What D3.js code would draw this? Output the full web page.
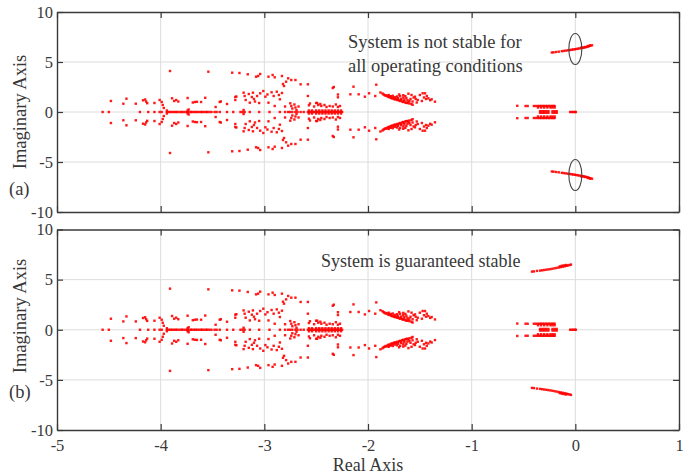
<!DOCTYPE html>
<html>
<head>
<meta charset="utf-8">
<script src="https://cdn.jsdelivr.net/npm/d3@7"></script>
<style>
  html, body { margin: 0; padding: 0; background: #fff; }
  svg { display: block; }
  text { font-family: "Liberation Serif", "Times New Roman", serif; fill: #383838; }
</style>
</head>
<body>
<svg id="chart" width="694" height="475"></svg>
<script>
// Closed-loop eigenvalues over the operating range, stored as upper-half-plane
// values [re, im]; each complex value is drawn together with its conjugate.

// Well-damped modes shared by both designs
const realAxisModes = [
  -4.56, -4.50, -4.20, -4.12, -4.06, -4.01, -3.99,
  -3.94, -3.92, -3.905, -3.89, -3.87, -3.855, -3.84, -3.82, -3.80, -3.79, -3.77,
  -3.75, -3.74, -3.73, -3.71, -3.70, -3.68, -3.665, -3.65, -3.63, -3.61, -3.60,
  -3.58, -3.56, -3.55, -3.53, -3.51, -3.48, -3.46, -3.43, -3.36, -3.30, -3.23,
  -3.21, -3.19, -3.14, -3.05, -2.95, -2.85, -2.80, -2.77, -2.75, -2.73, -2.70,
  -2.68, -2.65, -2.62,
  -2.58, -2.565, -2.55, -2.535, -2.52, -2.505, -2.49, -2.475, -2.46, -2.445,
  -2.43, -2.415, -2.40, -2.385, -2.37, -2.355, -2.34, -2.325, -2.31, -2.295,
  -2.28, -2.265, -2.25
];

const complexModes = [
  // far-left group
  [-4.48, 1.10], [-4.36, 0.83], [-4.33, 1.33], [-4.24, 0.83], [-4.17, 1.17],
  [-4.15, 1.25], [-4.14, 1.05], [-4.13, 0.88], [-4.06, 0.90], [-4.01, 1.20],
  [-3.99, 1.00], [-3.98, 0.70], [-3.97, 0.40], [-3.94, 0.15],
  // lightly damped outer arc
  [-3.91, 4.10], [-3.54, 4.03], [-3.31, 3.93], [-3.24, 3.90], [-3.16, 3.77],
  [-3.06, 3.60], [-3.08, 3.53], [-3.04, 3.80], [-2.96, 3.53], [-2.92, 3.70],
  [-2.90, 3.47], [-2.83, 3.60], [-2.82, 2.80], [-2.81, 2.60], [-2.79, 3.03],
  [-2.77, 3.37], [-2.74, 3.20], [-2.70, 3.20], [-2.65, 2.77], [-2.58, 2.77],
  // inner groups
  [-3.89, 1.37], [-3.87, 1.10], [-3.85, 1.20], [-3.83, 1.05], [-3.74, 1.40],
  [-3.74, 0.15], [-3.73, 0.25], [-3.69, 0.95], [-3.67, 1.00], [-3.65, 1.02],
  [-3.61, 1.00], [-3.57, 1.42], [-3.47, 0.50], [-3.43, 1.00], [-3.42, 1.05],
  [-3.36, 0.80], [-3.28, 1.50], [-3.27, 1.55], [-3.28, 1.20], [-3.20, 0.20],
  [-3.19, 1.60], [-3.18, 1.20], [-3.12, 1.50], [-3.10, 1.30], [-3.09, 1.05],
  [-3.20, 1.93], [-3.15, 1.80], [-3.11, 1.93], [-3.07, 1.60], [-3.04, 1.87],
  [-3.01, 2.10], [-2.99, 1.53], [-2.97, 1.75], [-2.93, 1.97], [-2.91, 1.60],
  [-2.88, 2.03], [-2.86, 1.70], [-2.85, 1.27], [-2.83, 1.90],
  [-3.14, 0.93], [-3.05, 0.90], [-2.96, 0.93], [-2.90, 0.60], [-2.80, 0.55],
  [-2.75, 0.87], [-2.74, 0.60], [-2.73, 0.35], [-2.71, 0.75], [-2.70, 0.45],
  [-2.69, 0.20], [-2.67, 0.55], [-2.58, 1.60], [-2.57, 0.67], [-2.50, 0.90],
  [-2.48, 0.70], [-2.46, 0.80],
  // band around -2.4
  [-2.57, 0.15], [-2.54, 0.15], [-2.50, 0.15], [-2.47, 0.15], [-2.44, 0.15],
  [-2.41, 0.15], [-2.38, 0.15], [-2.35, 0.15], [-2.32, 0.15], [-2.29, 0.15],
  [-2.26, 0.15],
  [-2.56, 0.85], [-2.52, 0.55], [-2.49, 0.90], [-2.45, 0.60], [-2.42, 0.70],
  [-2.40, 0.50], [-2.37, 0.60], [-2.34, 0.55], [-2.31, 0.75], [-2.29, 0.50],
  [-2.27, 0.60],
  [-2.34, 2.40], [-2.33, 2.50], [-2.29, 1.75], [-2.29, 1.47],
  // group between -2.2 and -1.35
  [-2.14, 2.53], [-2.17, 1.77], [-2.09, 1.77], [-2.03, 1.53], [-1.99, 1.87],
  [-1.93, 1.60], [-1.92, 2.73],
  [-1.88, 1.95], [-1.86, 1.85], [-1.85, 1.75], [-1.84, 1.70], [-1.83, 1.62],
  [-1.82, 1.66], [-1.81, 1.55], [-1.80, 1.48], [-1.79, 1.52], [-1.78, 1.42],
  [-1.77, 1.36], [-1.76, 1.40], [-1.75, 1.30], [-1.74, 1.26], [-1.73, 1.32],
  [-1.72, 1.20], [-1.71, 1.24], [-1.70, 1.15], [-1.69, 1.10], [-1.68, 1.18],
  [-1.67, 1.05], [-1.66, 1.00], [-1.65, 1.08], [-1.64, 0.95], [-1.63, 0.92],
  [-1.62, 0.90], [-1.61, 0.98], [-1.60, 0.85], [-1.58, 0.80], [-1.57, 0.72],
  [-1.80, 1.70], [-1.76, 1.62], [-1.72, 1.55], [-1.69, 1.60], [-1.66, 1.45],
  [-1.63, 1.40], [-1.61, 1.83], [-1.58, 1.70], [-1.59, 1.30],
  [-1.78, 1.58], [-1.74, 1.48], [-1.71, 1.40], [-1.68, 1.32], [-1.65, 1.25],
  [-1.62, 1.18], [-1.60, 1.12], [-1.57, 1.05], [-1.70, 1.75], [-1.66, 1.68],
  [-1.64, 1.58], [-1.56, 1.45], [-1.54, 1.30], [-1.53, 0.95],
  [-1.547, 1.53], [-1.50, 1.70], [-1.473, 1.87], [-1.45, 1.87], [-1.433, 1.60],
  [-1.418, 1.37], [-1.386, 1.27], [-1.354, 1.03], [-1.52, 1.20], [-1.48, 1.10],
  [-1.46, 1.45], [-1.44, 1.30], [-1.40, 1.18],
  // cluster near the imaginary axis
  [-0.56, 0.62], [-0.48, 0.60], [-0.46, 0.60], [-0.40, 0.60], [-0.38, 0.60],
  [-0.36, 0.60], [-0.345, 0.60], [-0.33, 0.60], [-0.315, 0.60], [-0.30, 0.60],
  [-0.285, 0.60], [-0.27, 0.60], [-0.255, 0.60], [-0.24, 0.60], [-0.225, 0.60],
  [-0.21, 0.60], [-0.20, 0.60],
  [-0.36, 0.45], [-0.33, 0.45], [-0.30, 0.45], [-0.27, 0.45], [-0.24, 0.45],
  [-0.22, 0.45], [-0.20, 0.45],
  [-0.34, 0.08], [-0.32, 0.08], [-0.30, 0.08], [-0.28, 0.08], [-0.26, 0.08],
  [-0.22, 0.08], [-0.20, 0.08], [-0.18, 0.08]
];

const nearZeroReal = [-0.05, -0.035, -0.02, -0.005, 0.005];

// Critical (inter-area) mode for each design
const criticalA = [
  [-0.226, 5.95], [-0.21, 5.97], [-0.185, 6.00], [-0.16, 6.03], [-0.13, 6.08],
  [-0.11, 6.11], [-0.09, 6.14], [-0.07, 6.17], [-0.05, 6.20], [-0.035, 6.23],
  [-0.02, 6.25], [-0.005, 6.28], [0.01, 6.30], [0.025, 6.33], [0.04, 6.36],
  [0.055, 6.39], [0.07, 6.41], [0.085, 6.44], [0.10, 6.48], [0.115, 6.52],
  [0.13, 6.57], [0.145, 6.62], [0.161, 6.67], [0.12, 6.60], [0.14, 6.66],
  [0.09, 6.50], [0.06, 6.46]
];

const criticalB = [
  [-0.418, 5.80], [-0.40, 5.82], [-0.37, 5.87], [-0.34, 5.90], [-0.32, 5.93],
  [-0.30, 5.96], [-0.28, 5.99], [-0.26, 6.02], [-0.24, 6.05], [-0.22, 6.09],
  [-0.20, 6.13], [-0.18, 6.17], [-0.16, 6.21], [-0.14, 6.25], [-0.12, 6.29],
  [-0.10, 6.34], [-0.085, 6.38], [-0.07, 6.42], [-0.055, 6.46], [-0.042, 6.50],
  [-0.13, 6.38], [-0.11, 6.42], [-0.09, 6.46], [-0.15, 6.32]
];

const xTicks = [-5, -4, -3, -2, -1, 0, 1];
const yTicks = [-10, -5, 0, 5, 10];
const fmt = d => String(d);   // plain hyphen-minus, no decimals

const svg = d3.select("#chart");
const x = d3.scaleLinear().domain([-5, 1]).range([57, 679]);

const panels = [
  { top: 12, bottom: 212, tag: "(a)", tagY: 195, labelY: 112, critical: criticalA, showX: false },
  { top: 229.5, bottom: 430, tag: "(b)", tagY: 398, labelY: 316, critical: criticalB, showX: true }
];

panels.forEach(p => {
  const y = d3.scaleLinear().domain([-10, 10]).range([p.bottom, p.top]);
  const g = svg.append("g");
  const [x0, x1] = x.range();

  // grid
  g.append("g").selectAll("line").data(xTicks.slice(1, -1)).join("line")
    .attr("x1", d => x(d)).attr("x2", d => x(d))
    .attr("y1", p.top).attr("y2", p.bottom)
    .attr("stroke", "#dcdcdc").attr("stroke-width", 1);
  g.append("g").selectAll("line").data(yTicks.slice(1, -1)).join("line")
    .attr("y1", d => y(d)).attr("y2", d => y(d))
    .attr("x1", x0).attr("x2", x1)
    .attr("stroke", "#dcdcdc").attr("stroke-width", 1);

  // axes with inward ticks on all four sides
  const axL = d3.axisLeft(y).tickValues(yTicks).tickFormat(fmt).tickSizeInner(-6).tickSizeOuter(0).tickPadding(4);
  const axR = d3.axisRight(y).tickValues(yTicks).tickSizeInner(-6).tickSizeOuter(0).tickFormat("");
  const axT = d3.axisTop(x).tickValues(xTicks).tickSizeInner(-6).tickSizeOuter(0).tickFormat("");
  const axB = d3.axisBottom(x).tickValues(xTicks).tickSizeInner(-6).tickSizeOuter(0).tickPadding(9)
    .tickFormat(p.showX ? fmt : "");

  const styleAxis = sel => {
    sel.select(".domain").attr("stroke", "#3a3a3a").attr("stroke-width", 1.4);
    sel.selectAll(".tick line").attr("stroke", "#3a3a3a").attr("stroke-width", 1.2);
    sel.selectAll(".tick text").attr("fill", "#383838").style("font-size", "16.5px")
      .style("font-family", '"Liberation Serif", serif');
  };
  g.append("g").attr("transform", `translate(${x0},0)`).call(axL).call(styleAxis);
  g.append("g").attr("transform", `translate(${x1},0)`).call(axR).call(styleAxis);
  g.append("g").attr("transform", `translate(0,${p.top})`).call(axT).call(styleAxis);
  g.append("g").attr("transform", `translate(0,${p.bottom})`).call(axB).call(styleAxis);

  // eigenvalues and their conjugates
  const pts = [];
  realAxisModes.forEach(r => pts.push([r, 0]));
  nearZeroReal.forEach(r => pts.push([r, 0]));
  complexModes.concat(p.critical).forEach(([re, im]) => {
    pts.push([re, im]);
    pts.push([re, -im]);
  });
  const s = 2.4;
  g.append("g").selectAll("rect").data(pts).join("rect")
    .attr("x", d => x(d[0]) - s / 2).attr("y", d => y(d[1]) - s / 2)
    .attr("width", s).attr("height", s)
    .attr("fill", "#ff0000").attr("fill-opacity", 0.9);

  // axis label and panel tag
  g.append("text").attr("transform", `translate(26,${p.labelY}) rotate(-90)`)
    .attr("text-anchor", "middle").style("font-size", "18.5px").text("Imaginary Axis");
  g.append("text").attr("x", 9).attr("y", p.tagY)
    .style("font-size", "18.5px").text(p.tag);

  if (!p.showX) {
    // unstable modes highlighted
    [6.3, -6.3].forEach(v => {
      g.append("ellipse").attr("cx", x(0)).attr("cy", y(v))
        .attr("rx", 6.5).attr("ry", 15.5)
        .attr("fill", "none").attr("stroke", "#444").attr("stroke-width", 1.1);
    });
    g.append("text").attr("x", 348).attr("y", 48).style("font-size", "18.5px")
      .text("System is not stable for");
    g.append("text").attr("x", 348).attr("y", 72).style("font-size", "18.5px")
      .text("all operating conditions");
  } else {
    g.append("text").attr("x", 321).attr("y", 267).style("font-size", "18px")
      .text("System is guaranteed stable");
    g.append("text").attr("x", (x0 + x1) / 2).attr("y", 471)
      .attr("text-anchor", "middle").style("font-size", "18px").text("Real Axis");
  }
});
</script>
</body>
</html>
